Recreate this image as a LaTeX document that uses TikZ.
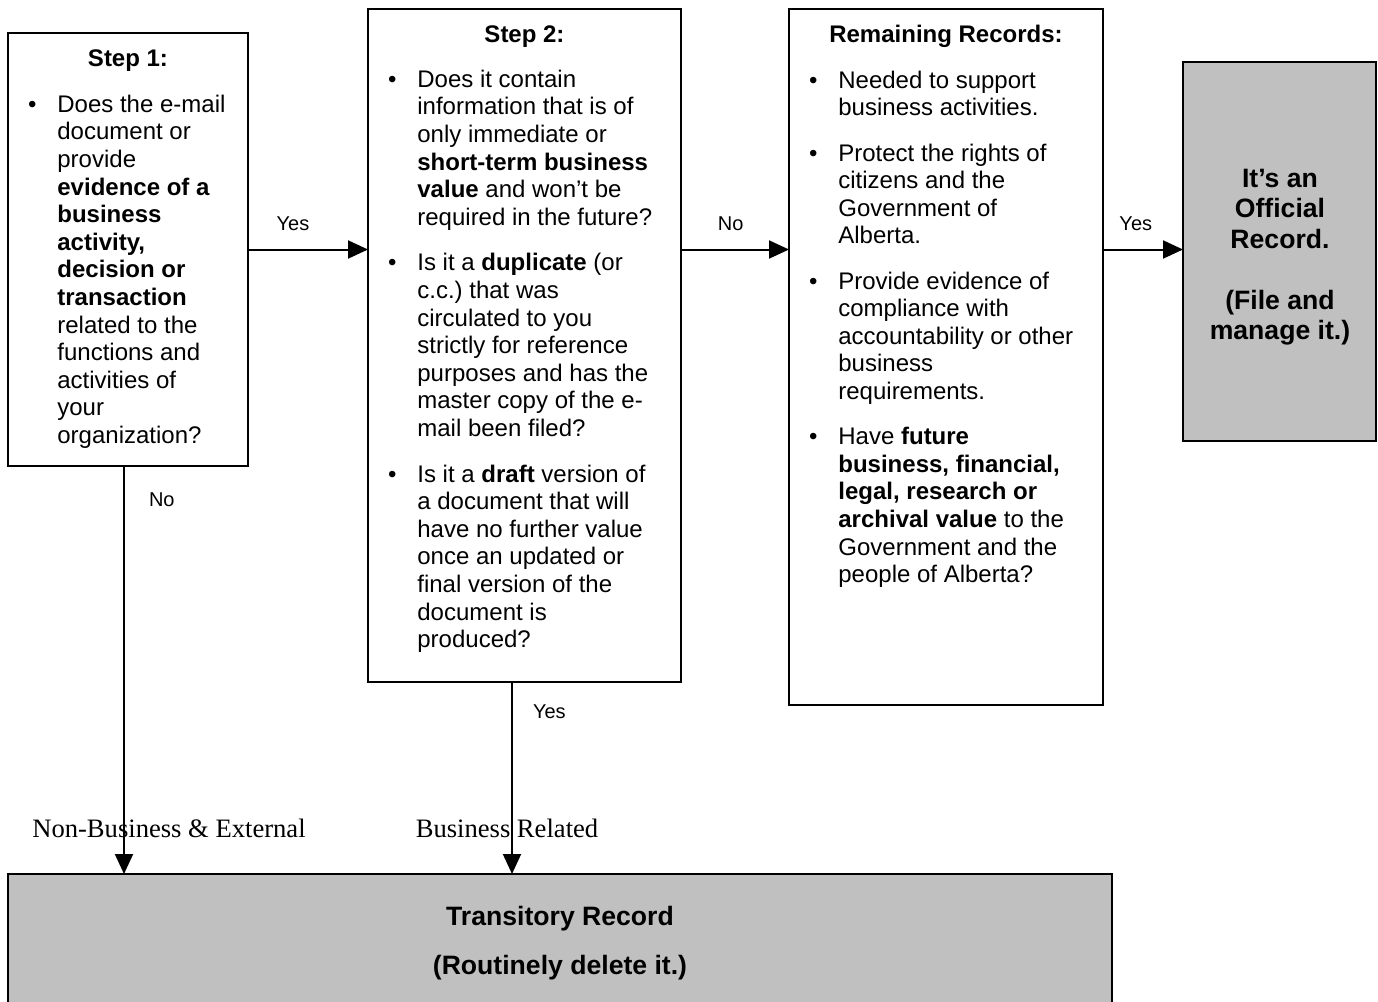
\documentclass[tikz,border=0pt]{standalone}
\usepackage{fontspec}
\setmainfont{Liberation Sans}
\newfontfamily\serifface{Liberation Serif}
\usetikzlibrary{arrows.meta}
\frenchspacing

\definecolor{boxgrey}{HTML}{C0C0C0}
\newcommand{\bul}{\llap{\textbullet\hspace{10.4pt}}}

\tikzset{
  box/.style={draw, line width=1pt, inner sep=0pt, outer sep=0pt, anchor=north west},
  grey box/.style={box, fill=boxgrey},
  body/.style={font=\fontsize{12}{13.8}\selectfont, align=left, inner sep=0pt, anchor=north west},
  head/.style={font=\bfseries\fontsize{12}{13.8}\selectfont, inner sep=0pt, anchor=base},
  big/.style={font=\bfseries\fontsize{13.3}{15.25}\selectfont, align=center, inner sep=0pt},
  lbl/.style={font=\fontsize{10}{12}\selectfont, inner sep=0pt},
  flow/.style={line width=1pt, -{Triangle[length=10pt,width=9pt]}}
}

\begin{document}
\begin{tikzpicture}[x=0.5pt,y=-0.5pt]
    \useasboundingbox (0,0) rectangle (1378,1002);
    % boxes
    \node[box, minimum width=120pt, minimum height=216.5pt] (step1) at (8,33) {};
    \node[box, minimum width=156.5pt, minimum height=336.5pt] (step2) at (368,9) {};
    \node[box, minimum width=157pt, minimum height=348pt] (remain) at (789,9) {};
    \node[grey box, minimum width=96.5pt, minimum height=189.5pt] (official) at (1183,62) {};
    \node[grey box, minimum width=552pt, minimum height=70pt] (trans) at (8,874) {};
    % step 1
    \node[head] (h1) at (128,66) {Step 1:};
    \node[body] (q1) at (57,94.5) {\bul Does the e-mail\\ document or\\ provide\\
        \textbf{evidence of a}\\ \textbf{business}\\ \textbf{activity,}\\ \textbf{decision or}\\
        \textbf{transaction}\\ related to the\\ functions and\\ activities of\\ your\\ organization?};
    % step 2
    \node[head] (h2) at (524.5,42) {Step 2:};
    \node[body] (q2) at (417,69.5) {\bul Does it contain\\ information that is of\\ only immediate or\\
        \textbf{short-term business}\\ \textbf{value} and won’t be\\ required in the future?\\[9pt]
        \bul Is it a \textbf{duplicate} (or\\ c.c.) that was\\ circulated to you\\ strictly for reference\\
        purposes and has the\\ master copy of the e-\\ mail been filed?\\[9pt]
        \bul Is it a \textbf{draft} version of\\ a document that will\\ have no further value\\
        once an updated or\\ final version of the\\ document is\\ produced?};
    % remaining records
    \node[head] (h3) at (946,42) {Remaining Records:};
    \node[body] (q3) at (838,70.5) {\bul Needed to support\\ business activities.\\[8.8pt]
        \bul Protect the rights of\\ citizens and the\\ Government of\\ Alberta.\\[8.8pt]
        \bul Provide evidence of\\ compliance with\\ accountability or other\\ business\\ requirements.\\[8.8pt]
        \bul Have \textbf{future}\\ \textbf{business, financial,}\\ \textbf{legal, research or}\\
        \textbf{archival value} to the\\ Government and the\\ people of Alberta?};
    % outcomes
    \node[big] (offtxt) at (1280,257) {It’s an\\ Official\\ Record.\\[15.25pt] (File and\\ manage it.)};
    \node[big] (transtxt) at (560,943.5) {Transitory Record\\[9.25pt] (Routinely delete it.)};
    \node[lbl, font=\serifface\fontsize{13.3}{15}\selectfont] (nbx) at (169,828) {Non-Business \& External};
    \node[lbl, font=\serifface\fontsize{13.3}{15}\selectfont] (bsr) at (507,828) {Business Related};
    % connectors
    \draw[flow] (step1.east) -- node[lbl, pos=0.375, above=9pt] (yes1) {Yes} (step1.east -| step2.west);
    \draw[flow] (step1.east -| step2.east) -- node[lbl, pos=0.46, above=9pt] (no1) {No} (step1.east -| remain.west);
    \draw[flow] (step1.east -| remain.east) -- node[lbl, pos=0.41, above=9pt] (yes2) {Yes} (step1.east -| official.west);
    \draw[flow] ([xshift=-2pt]step1.south) -- node[lbl, pos=0.083, anchor=west, xshift=12pt] (no2) {No} ([xshift=-2pt]step1.south |- trans.north);
    \draw[flow] ([xshift=-6.25pt]step2.south) -- node[lbl, pos=0.156, anchor=west, xshift=10pt] (yes3) {Yes} ([xshift=-6.25pt]step2.south |- trans.north);
\end{tikzpicture}
\end{document}
